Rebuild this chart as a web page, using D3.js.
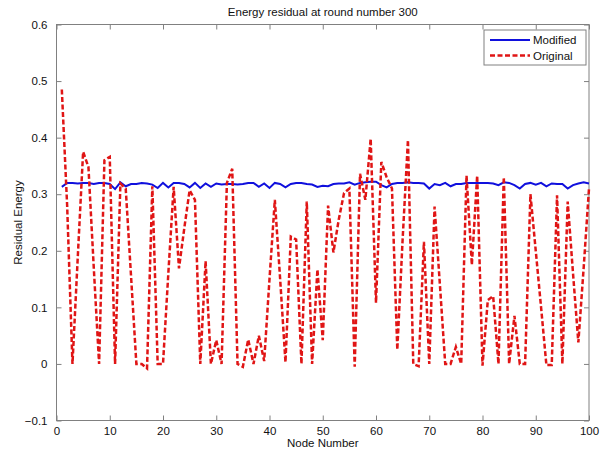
<!DOCTYPE html>
<html><head><meta charset="utf-8">
<script src="https://cdn.jsdelivr.net/npm/d3@7"></script>
<style>
body{margin:0;background:#fff;}
text{font-family:"Liberation Sans",Arial,sans-serif;fill:#111;}
</style></head>
<body><svg id="c" width="605" height="455"></svg>
<script>
const title = "Energy residual at round number 300";
const xLabel = "Node Number";
const yLabel = "Residual Energy";
const seriesNames = ["Modified", "Original"];
const xTicks = [0,10,20,30,40,50,60,70,80,90,100];
const yTicks = [-0.1,0,0.1,0.2,0.3,0.4,0.5,0.6];
const nodes = d3.range(1, 101);
const modified = [0.313,0.320,0.320,0.319,0.320,0.320,0.318,0.320,0.320,0.318,
0.309,0.321,0.314,0.318,0.318,0.320,0.319,0.317,0.311,0.320,
0.312,0.320,0.320,0.318,0.312,0.320,0.311,0.319,0.313,0.319,
0.317,0.318,0.318,0.317,0.318,0.320,0.320,0.313,0.319,0.311,
0.320,0.318,0.312,0.318,0.320,0.320,0.318,0.317,0.313,0.315,
0.314,0.318,0.319,0.319,0.321,0.317,0.320,0.321,0.322,0.322,
0.316,0.312,0.318,0.320,0.320,0.321,0.320,0.320,0.319,0.310,
0.318,0.316,0.320,0.314,0.318,0.318,0.320,0.320,0.320,0.320,
0.320,0.319,0.316,0.321,0.320,0.316,0.310,0.318,0.320,0.317,
0.320,0.314,0.319,0.318,0.318,0.310,0.316,0.319,0.321,0.319];
const original = [0.485,0.28,0.0,0.19,0.375,0.348,0.17,0.0,0.36,0.366,
0.0,0.319,0.31,0.155,0.0,0.0,-0.008,0.314,0.0,0.0,
0.16,0.313,0.169,0.24,0.307,0.29,0.0,0.182,0.0,0.042,
0.0,0.32,0.345,0.0,-0.005,0.043,0.0,0.05,0.005,0.15,
0.29,0.15,0.003,0.225,0.22,0.0,0.287,0.0,0.167,0.042,
0.28,0.197,0.255,0.302,0.31,-0.005,0.336,0.29,0.398,0.108,
0.357,0.33,0.31,0.025,0.22,0.396,0.0,-0.004,0.216,0.0,
0.278,0.14,0.0,0.0,0.03,0.0,0.333,0.175,0.333,-0.003,
0.113,0.12,0.0,0.33,0.0,0.085,0.0,0.0,0.3,0.2,
0.1,-0.002,-0.002,0.298,0.0,0.287,0.16,0.038,0.17,0.31];

const svg = d3.select("#c");
const L = 56.5, R = 589, T = 24.5, B = 420.5;
const x = d3.scaleLinear().domain([0,100]).range([L,R]);
const y = d3.scaleLinear().domain([-0.1,0.6]).range([B,T]);
const axisColor = "#808080";

function styleAxis(g){
  g.select(".domain").remove();
  g.selectAll("line").attr("stroke", axisColor);
  g.selectAll("text").style("font-size","11.5px").attr("fill","#111");
}
svg.append("g").attr("transform",`translate(0,${B})`)
  .call(d3.axisBottom(x).tickValues(xTicks).tickSizeInner(-5).tickSizeOuter(0).tickPadding(6))
  .call(styleAxis);
svg.append("g").attr("transform",`translate(0,${T})`)
  .call(d3.axisTop(x).tickValues(xTicks).tickSizeInner(-5).tickSizeOuter(0).tickFormat(""))
  .call(styleAxis);
svg.append("g").attr("transform",`translate(${L},0)`)
  .call(d3.axisLeft(y).tickValues(yTicks).tickSizeInner(-5).tickSizeOuter(0).tickPadding(9)
    .tickFormat(d => Math.abs(d) < 1e-9 ? "0" : d3.format(".1f")(d)))
  .call(styleAxis);
svg.append("g").attr("transform",`translate(${R},0)`)
  .call(d3.axisRight(y).tickValues(yTicks).tickSizeInner(-5).tickSizeOuter(0).tickFormat(""))
  .call(styleAxis);
svg.append("rect").attr("x",L).attr("y",T).attr("width",R-L).attr("height",B-T)
  .attr("fill","none").attr("stroke",axisColor).attr("stroke-width",1);

const line = d3.line().x((d,i)=>x(nodes[i])).y(d=>y(d));
svg.append("path").datum(modified).attr("d",line).attr("fill","none")
  .attr("stroke","#1010dd").attr("stroke-width",2);
svg.append("path").datum(original).attr("d",line).attr("fill","none")
  .attr("stroke","#e01515").attr("stroke-width",2.5).attr("stroke-dasharray","5,2.5");

svg.append("text").attr("x",(L+R)/2).attr("y",16).attr("text-anchor","middle")
  .style("font-size","11.5px").text(title);
svg.append("text").attr("x",(L+R)/2).attr("y",447).attr("text-anchor","middle")
  .style("font-size","11.5px").text(xLabel);
svg.append("text").attr("transform",`translate(22,${(T+B)/2}) rotate(-90)`).attr("text-anchor","middle")
  .style("font-size","11.5px").text(yLabel);

// legend
const lg = svg.append("g");
lg.append("rect").attr("x",484).attr("y",30).attr("width",102).attr("height",35)
  .attr("fill","#fff").attr("stroke",axisColor);
const styles = [{c:"#1010dd",w:2,d:null},{c:"#e01515",w:2.5,d:"5,2.5"}];
seriesNames.forEach((n,i)=>{
  const yy = 40 + i*15.5;
  lg.append("line").attr("x1",490).attr("x2",530).attr("y1",yy).attr("y2",yy)
    .attr("stroke",styles[i].c).attr("stroke-width",styles[i].w).attr("stroke-dasharray",styles[i].d);
  lg.append("text").attr("x",533).attr("y",yy+4).style("font-size","11.5px").text(n);
});
</script></body></html>
